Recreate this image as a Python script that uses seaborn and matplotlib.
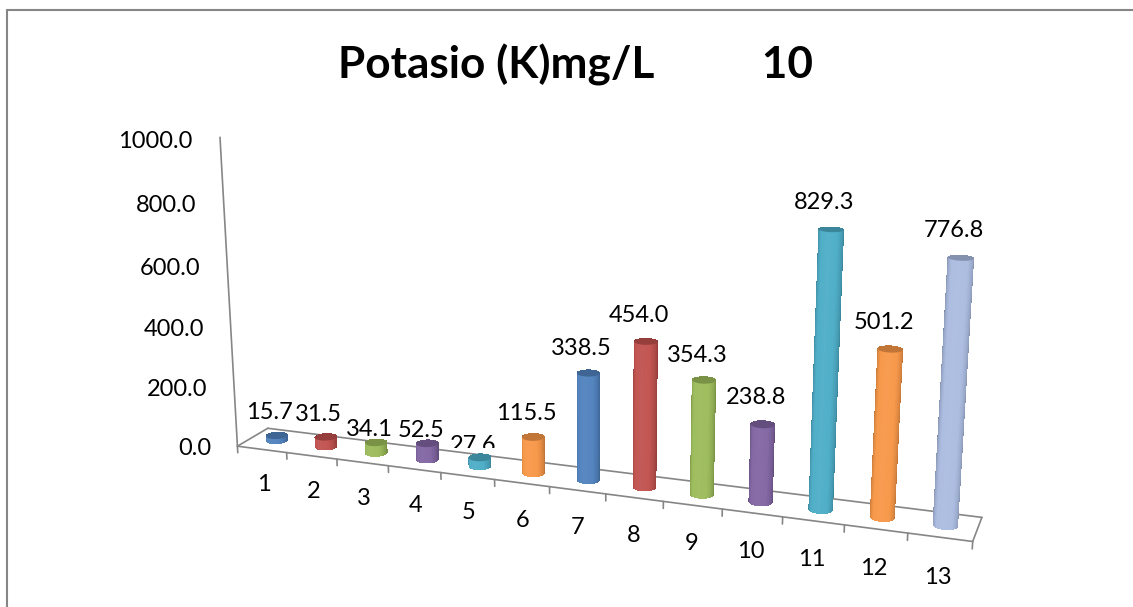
import numpy as np
import matplotlib
matplotlib.use('Agg')
import matplotlib.pyplot as plt
import seaborn as sns
from matplotlib.lines import Line2D
from matplotlib.transforms import Bbox
from mpl_toolkits.mplot3d import proj3d
from mpl_toolkits.mplot3d.art3d import Poly3DCollection

# Chart data
categories = ['1', '2', '3', '4', '5', '6', '7', '8', '9', '10', '11', '12', '13']
values = [15.7, 31.5, 34.1, 52.5, 27.6, 115.5, 338.5, 454.0, 354.3, 238.8, 829.3, 501.2, 776.8]
bar_colors = ['#4F81BD', '#C0504D', '#9BBB59', '#8064A2', '#4BACC6', '#F79646',
              '#4F81BD', '#C0504D', '#9BBB59', '#8064A2', '#4BACC6', '#F79646', '#AABBE0']
y_ticks = [0, 200, 400, 600, 800, 1000]
# how far each value label sits above its bar, in axis units
label_lift = [75, 75, 42, 42, 36, 75, 75, 78, 72, 80, 76, 76, 76]

sns.set_theme(style='white')
plt.rcParams['font.family'] = ['Lato', 'DejaVu Sans']

W, H = 1133, 607
GREY = '#868686'
FONT_SIZE = 17
fig = plt.figure(figsize=(W / 100, H / 100), dpi=100, facecolor='white')

# Camera fitted to the 3D look of the original chart
by, bz = 0.0819, 0.4288
ax = fig.add_axes([0.14184, -0.23359, 0.73514, 1.37219], projection='3d')
ax.view_init(elev=15.114, azim=-70.039, roll=0)
ax.set_proj_type('persp', focal_length=0.3808)
ax.set_box_aspect((1, by, bz))
ax.set_xlim(0, len(categories), view_margin=0)
ax.set_ylim(0, 1, view_margin=0)
ax.set_zlim(0, max(y_ticks), view_margin=0)
ax.set_axis_off()
ax.computed_zorder = False
M = ax.get_proj()


def label_at(x, y, z, s, **kw):
    # text at a 3D point, drawn as a plain 2D text of the axes
    px, py, _ = proj3d.proj_transform(x, y, z, M)
    return ax.text2D(px, py, s, transform=ax.transData, fontsize=FONT_SIZE, color='black',
                     va='center', zorder=60, **kw)


# Floor, wall edge and ticks
n = len(categories)
line_kw = dict(color=GREY, lw=1.2, zorder=1)
ax.plot([0, n], [0, 0], [0, 0], **line_kw)
ax.plot([0, n], [1, 1], [0, 0], **line_kw)
ax.plot([0, 0], [0, 1], [0, 0], **line_kw)
ax.plot([n, n], [0, 1], [0, 0], **line_kw)
ax.plot([0, 0], [0, 0], [0, max(y_ticks)], **line_kw)
for i in range(n + 1):
    ax.plot([i, i], [0, 0], [0, -22], **line_kw)

# Cylinders
rx = 0.19
ry = rx * (1 / n) / by
theta = np.linspace(np.pi, 3 * np.pi, 81)
u = np.clip((theta - np.pi) / np.pi, 0, 1)
shade = np.interp(u, [0, 0.08, 0.3, 0.7, 0.92, 1], [0.62, 0.82, 1.0, 1.0, 0.86, 0.78])
glow = np.interp(u, [0, 0.3, 0.5, 0.7, 1], [0, 0.03, 0.06, 0.03, 0])

for i, (v, c) in enumerate(zip(values, sns.color_palette(bar_colors))):
    xs = i + 0.5 + rx * np.cos(theta)
    ys = 0.5 + ry * np.sin(theta)
    X = np.array([xs, xs])
    Y = np.array([ys, ys])
    Z = np.array([np.zeros_like(xs), np.full_like(xs, v)])
    rgb = np.outer(shade, c)
    rgb = rgb + (1 - rgb) * glow[:, None]
    fc = np.column_stack([rgb, np.ones(len(xs))])
    fc = np.stack([fc, fc])
    ax.plot_surface(X, Y, Z, facecolors=fc, rstride=1, cstride=1, shade=False,
                    linewidth=0, antialiased=False, zorder=5 + i * 2)
    cap = Poly3DCollection([list(zip(xs, ys, np.full_like(xs, v)))],
                           facecolor=tuple(np.array(c) * 0.78), edgecolor='none', zorder=6 + i * 2)
    ax.add_collection3d(cap, autolim=False)

# Value labels
for i, (v, lift) in enumerate(zip(values, label_lift)):
    t = label_at(i + 0.5 - 0.12, 0.5, v + lift, f'{v:.1f}', ha='center')
    if i == 4:  # this label is cut off by the floor in the original
        t.set_clip_box(Bbox([[0, H - 448], [W, H]]))
        t.set_clip_on(True)

# Category labels
for i, name in enumerate(categories):
    label_at(i + 0.5, 0, -120, name, ha='center')

# Value axis labels
for tick in y_ticks:
    label_at(-0.55, 0, tick - 20, f'{tick:.1f}', ha='right')

# Title and chart frame (top and left only)
fig.text(575.5 / W, 1 - 78 / H, 'Potasio (K)mg/L          10', fontsize=31.8, fontweight='bold',
         color='black', ha='center', va='baseline')
fig.add_artist(Line2D([7 / W, 7 / W], [0, 1 - 10 / H], color=GREY, lw=1.5))
fig.add_artist(Line2D([7 / W, 1], [1 - 10 / H, 1 - 10 / H], color=GREY, lw=1.5))

plt.savefig('out.png', dpi=100)
